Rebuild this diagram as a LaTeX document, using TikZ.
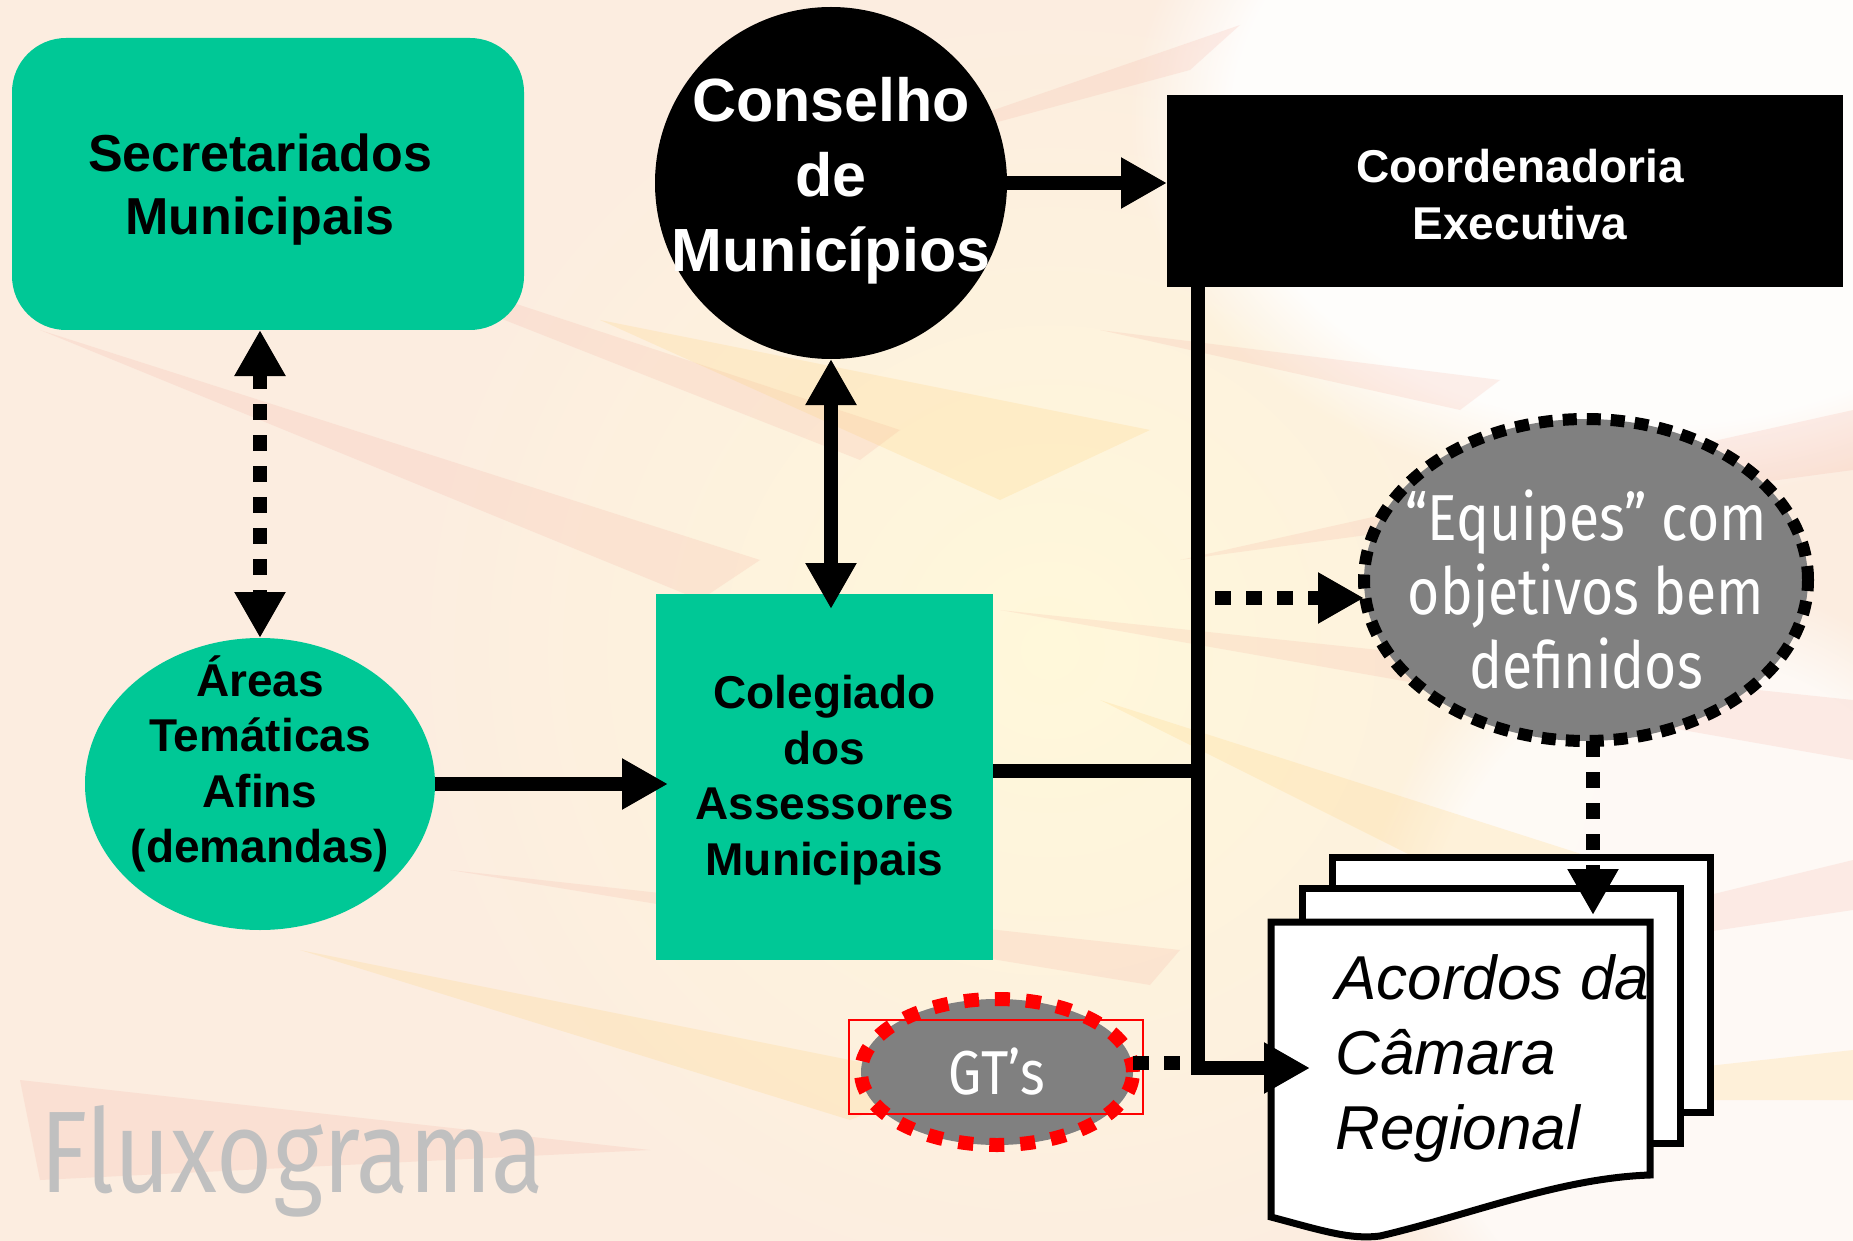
\documentclass[tikz,border=0pt]{standalone}
\usepackage{fontspec}
\setmainfont{Liberation Sans}
\newfontfamily\lightfont[FakeStretch=0.85]{Fira Sans}
\newfontfamily\titlefont[FakeStretch=0.83]{Fira Sans}
\usetikzlibrary{shapes.geometric,arrows.meta,calc,fadings}
\definecolor{bgpeach}{HTML}{FCEDE0}
\definecolor{bgyellow}{HTML}{FFF8DA}
\definecolor{tealgreen}{HTML}{00C896}
\definecolor{midgray}{HTML}{808080}
\definecolor{lightgray}{HTML}{C0C0C0}
\definecolor{streakred}{HTML}{F4A090}
\definecolor{streakorange}{HTML}{FFD27A}
\tikzset{
  conn/.style={line width=7pt, line join=miter},
  headtip/.style={-{Triangle[length=23pt,width=24pt]}},
  bothtip/.style={{Triangle[length=23pt,width=24pt]}-{Triangle[length=23pt,width=24pt]}},
  dotline/.style={line width=7pt, dash pattern=on 8pt off 7.5pt},
  shapebox/.style={inner sep=0pt, outer sep=0pt},
  blacktxt/.style={align=center, text=black, inner sep=0pt, font=\fontsize{23pt}{27.75pt}\selectfont\bfseries},
  whitetxt/.style={align=center, text=white, inner sep=0pt},
  docpage/.style={draw=black, fill=white, line width=3.5pt, rectangle, minimum width=189pt, minimum height=127.5pt, inner sep=0pt},
  streak/.style={fill=streakred, opacity=0.16},
  ostreak/.style={fill=streakorange, opacity=0.22},
  glow/.style={fill=white, path fading=circle with fuzzy edge 20 percent},
}
\begin{document}
\begin{tikzpicture}[x=0.5pt,y=-0.5pt]
\useasboundingbox (0,0) rectangle (1853,1241);
% background
\fill[bgpeach] (0,0) rectangle (1853,1241);
\shade[inner color=bgyellow, outer color=bgpeach] (1050,650) circle (650);
\fill[glow, opacity=0.9] (1650,120) ellipse (520 and 380);
\fill[glow, opacity=0.7] (1700,1000) ellipse (350 and 420);
\fill[streak] (1240,25) -- (1190,70) -- (820,170) -- cycle;
\fill[streak] (1853,410) -- (1853,470) -- (1180,560) -- cycle;
\fill[streak] (40,330) -- (760,560) -- (700,600) -- cycle;
\fill[streak] (450,870) -- (1180,950) -- (1150,985) -- cycle;
\fill[streak] (20,1080) -- (650,1150) -- (40,1180) -- cycle;
\fill[streak] (1853,860) -- (1853,910) -- (1320,990) -- cycle;
\fill[streak] (1000,610) -- (1853,700) -- (1853,760) -- cycle;
\fill[streak] (200,200) -- (900,430) -- (860,460) -- cycle;
\fill[streak] (1100,330) -- (1500,380) -- (1460,410) -- cycle;
\fill[ostreak] (600,320) -- (1150,430) -- (1000,500) -- cycle;
\fill[ostreak] (1100,700) -- (1600,860) -- (1500,900) -- cycle;
\fill[ostreak] (300,950) -- (950,1080) -- (850,1120) -- cycle;
\fill[ostreak] (1400,1100) -- (1853,1050) -- (1853,1100) -- cycle;

% main shapes
\node[shapebox, fill=tealgreen, rounded corners=27pt, minimum width=256pt, minimum height=146pt] (sec) at (268,184) {};
\node[blacktxt, font=\fontsize{26pt}{31.5pt}\selectfont\bfseries] (sectxt) at (260,190) {Secretariados\\Municipais};
\node[shapebox, circle, fill=black, minimum size=176pt] (cons) at (831,183) {};
\node[whitetxt, font=\fontsize{30.5pt}{37.5pt}\selectfont\bfseries] (constxt) at (831,181) {Conselho\\de\\Municípios};
\node[shapebox, rectangle, fill=black, minimum width=338pt, minimum height=96pt] (coord) at (1505,191) {};
\node[whitetxt, font=\fontsize{23pt}{28.5pt}\selectfont\bfseries] (coordtxt) at (1520,195) {Coordenadoria\\Executiva};
\node[shapebox, ellipse, fill=tealgreen, minimum width=175pt, minimum height=146pt] (areas) at (260,784) {};
\node[blacktxt] (areastxt) at (260,764) {Áreas\\Temáticas\\Afins\\(demandas)};
\node[shapebox, rectangle, fill=tealgreen, minimum width=168.5pt, minimum height=183pt] (coleg) at (824.5,777) {};
\node[blacktxt] (colegtxt) at (824.5,780) {Colegiado\\dos\\Assessores\\Municipais};
\node[shapebox, ellipse, fill=midgray, draw=black, line width=6pt, dash pattern=on 7pt off 5pt,
      minimum width=222pt, minimum height=161pt] (equipes) at (1586,580) {};
\node[whitetxt, font=\fontsize{32.5pt}{37pt}\lightfont] (equipestxt) at (1586,590) {“Equipes” com\\objetivos bem\\definidos};
\node[shapebox, ellipse, fill=midgray, draw=red, line width=7pt, dash pattern=on 7.5pt off 8pt,
      minimum width=136pt, minimum height=73pt] (gts) at (997,1072) {};
\node[whitetxt, font=\fontsize{31pt}{37pt}\lightfont] (gtstxt) at (997,1072) {GT’s};
\node[draw=red, line width=1pt, minimum width=147pt, minimum height=47pt, inner sep=0pt] (gtsbox) at (996,1067) {};

% document stack
\node[docpage] (docback) at (1521,984.5) {};
\node[docpage] (docmid) at (1491,1015.5) {};
\draw[line width=3.5pt, fill=white, line join=miter]
  (1271,922) -- (1650,922) -- (1650,1175)
  .. controls (1560,1178) and (1470,1215) .. (1380,1236)
  .. controls (1350,1240) and (1320,1230) .. (1271,1217) -- cycle;
\node[anchor=west, inner sep=0pt, align=left, font=\fontsize{31pt}{37.5pt}\selectfont\itshape] (acordos) at (1335,1058)
  {Acordos da\\Câmara\\Regional};

% junction points
\coordinate (jtop) at (1198,287);
\coordinate (jmid) at (1198,771);
\coordinate (jbot) at (1198,1068);
\coordinate (doctip) at (1310,1068);
\coordinate (eqstart) at (1215,598);
\coordinate (dtop) at (1593,915);

% connectors
\draw[conn, headtip] (cons.east) -- (cons.east -| coord.west);
\draw[conn, bothtip] (cons.south) -- ($(cons.south |- coleg.north)+(0,15)$);
\draw[dotline, bothtip] (sec.south -| areas.north) -- (areas.north);
\draw[conn, headtip] (areas.east) -- ($(areas.east -| coleg.west)+(12,0)$);
\draw[conn] (coleg.east |- jmid) -- (jmid);
\draw[conn, headtip] (jtop) -- (jbot) -- (doctip);
\draw[dotline, headtip] (eqstart) -- (eqstart -| equipes.west);
\draw[dotline, headtip] (equipes.south -| dtop) -- (dtop);
\draw[dotline] (gts.east |- 0,1063) -- (1191,1063);

% title
\node[anchor=base west, inner sep=0pt, text=lightgray, font=\fontsize{58pt}{64pt}\titlefont] (title) at (40,1192) {Fluxograma};
\end{tikzpicture}
\end{document}
